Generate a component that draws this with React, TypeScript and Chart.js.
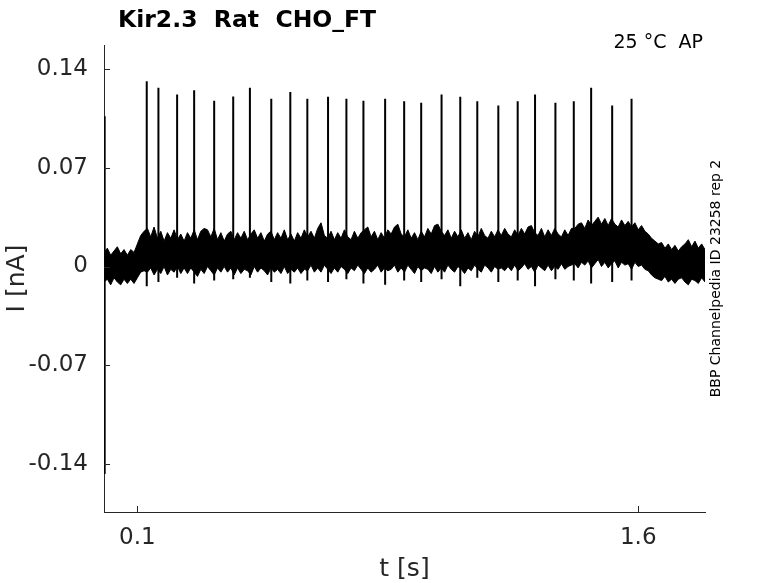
import { useEffect, useRef } from 'react';
import { Chart, registerables } from 'chart.js';

Chart.register(...registerables);

const FONT = "'DejaVu Sans', sans-serif";
const AXIS_COLOR = '#262626';

const X_MIN = 0;
const X_MAX = 1.8;
const Y_MIN = -0.174;
const Y_MAX = 0.157;

const xTickValues = [0.1, 1.6];
const xTickLabels = ['0.1', '1.6'];
const yTickValues = [-0.14, -0.07, 0, 0.07, 0.14];
const yTickLabels = ['-0.14', '-0.07', '0', '0.07', '0.14'];

const titleText = 'Kir2.3  Rat  CHO_FT';
const conditionText = '25 °C  AP';
const sourceText = 'BBP Channelpedia ID 23258 rep 2';
const xAxisLabel = 't [s]';
const yAxisLabel = 'I [nA]';

// noise band envelope, sampled every BAND_STEP seconds from BAND_START
const BAND_START = 0;
const BAND_STEP = 0.01;
const bandUpper = [
  0.010, 0.013, 0.008, 0.011, 0.014, 0.009, 0.012, 0.008, 0.012, 0.010,
  0.016, 0.022, 0.025,
  0.027, 0.021, 0.028, 0.020, 0.025, 0.018, 0.024, 0.020, 0.026, 0.019, 0.023, 0.018,
  0.024, 0.020, 0.026, 0.019, 0.025, 0.027, 0.026, 0.021, 0.027, 0.019, 0.024, 0.018,
  0.023, 0.025, 0.019, 0.024, 0.020, 0.025, 0.019, 0.023, 0.026, 0.020, 0.024, 0.018,
  0.023, 0.025, 0.019, 0.024, 0.020, 0.026, 0.019, 0.023, 0.018, 0.024, 0.020, 0.026,
  0.021, 0.025, 0.020, 0.027, 0.031, 0.022, 0.020, 0.025, 0.019, 0.024, 0.020, 0.026,
  0.021, 0.019, 0.025, 0.020, 0.024, 0.026, 0.028, 0.021, 0.025, 0.019, 0.024, 0.020,
  0.026, 0.023, 0.028, 0.030, 0.023, 0.021, 0.026, 0.020, 0.024, 0.019, 0.025, 0.021,
  0.027, 0.023, 0.029, 0.030, 0.025, 0.022, 0.026, 0.020, 0.025, 0.021, 0.026, 0.020,
  0.024, 0.019, 0.025, 0.021, 0.027, 0.022, 0.020, 0.025, 0.021, 0.026, 0.022, 0.027,
  0.023, 0.021, 0.026, 0.022, 0.027, 0.023, 0.028, 0.029, 0.024, 0.022,
  0.027, 0.021, 0.026, 0.022, 0.027, 0.023, 0.021, 0.026, 0.022, 0.027,
  0.027, 0.030, 0.031, 0.027, 0.033, 0.029, 0.032, 0.035, 0.030, 0.034, 0.029,
  0.034, 0.030, 0.028, 0.033, 0.029, 0.032, 0.028, 0.031, 0.026, 0.029, 0.025,
  0.023, 0.020, 0.018, 0.016,
  0.017, 0.013, 0.016, 0.012, 0.015, 0.011, 0.014, 0.016, 0.019, 0.014, 0.018, 0.013, 0.016, 0.012,
];
const bandLower = [
  -0.011, -0.009, -0.013, -0.008, -0.011, -0.013, -0.009, -0.012, -0.009, -0.012,
  -0.008, -0.004, -0.003,
  -0.004, -0.001, -0.006, -0.002, -0.005, 0.000, -0.006, -0.002, -0.004, 0.000, -0.005, -0.001,
  -0.005, -0.001, -0.004, -0.007, -0.002, -0.005, 0.000, -0.003, -0.006, -0.001, -0.004, 0.000,
  -0.004, -0.001, -0.006, -0.001, -0.005, -0.002, -0.003, -0.006, 0.000, -0.004, -0.001, -0.003,
  -0.006, -0.001, -0.004, -0.002, -0.005, 0.000, -0.005, -0.002, -0.004, -0.001, -0.005, -0.002,
  -0.003, 0.001, -0.004, -0.001, -0.004, 0.001, -0.002, -0.005, -0.001, -0.004, 0.000, -0.002,
  -0.005, -0.001, -0.003, 0.001, -0.002, -0.005, -0.001, -0.004, -0.002, 0.001, -0.004, -0.001,
  -0.003, -0.002, 0.001, -0.004, -0.001, -0.004, 0.001, -0.002, -0.005, 0.000, -0.003, -0.001,
  -0.002, -0.005, 0.000, -0.004, -0.001, -0.004, 0.001, -0.002, -0.004, 0.000, -0.002, -0.005,
  -0.001, -0.003, 0.001, -0.002, -0.004, 0.001, -0.001, -0.004, 0.000, -0.002, -0.001, -0.003,
  0.000, -0.003, 0.001, -0.003, -0.001, 0.002, -0.002, 0.000, -0.004, 0.001,
  -0.001, -0.003, 0.001, -0.003, 0.000, -0.002, 0.002, -0.002, 0.000, 0.001,
  0.002, -0.001, 0.003, 0.001, 0.004, -0.001, 0.002, 0.005, 0.000, 0.003, -0.001,
  0.002, 0.004, -0.001, 0.003, 0.001, 0.002, -0.002, 0.003, 0.000, 0.001, -0.002,
  -0.003, -0.006, -0.008, -0.009,
  -0.010, -0.007, -0.011, -0.009, -0.012, -0.009, -0.008, -0.011, -0.013, -0.009, -0.010, -0.012, -0.008, -0.011,
];

// action-potential spikes
const spikeTimes = [
  0.128, 0.163, 0.219, 0.270, 0.330, 0.387, 0.437, 0.501, 0.558, 0.609, 0.671, 0.726, 0.777,
  0.842, 0.899, 0.950, 1.011, 1.067, 1.118, 1.181, 1.239, 1.291, 1.352, 1.407, 1.459, 1.522, 1.580,
];
const spikePeaks = [
  0.1313, 0.1267, 0.1219, 0.1250, 0.1174, 0.1205, 0.1267, 0.1189, 0.1236, 0.1189, 0.1203, 0.1189, 0.1174,
  0.1189, 0.1172, 0.1160, 0.1219, 0.1203, 0.1172, 0.1141, 0.1172, 0.1219, 0.1160, 0.1172, 0.1267, 0.1141, 0.1189,
];
const spikeTroughs = [
  -0.014, -0.011, -0.008, -0.012, -0.010, -0.009, -0.008, -0.011, -0.012, -0.010, -0.011, -0.009, -0.012,
  -0.013, -0.010, -0.011, -0.009, -0.014, -0.008, -0.011, -0.010, -0.014, -0.009, -0.010, -0.012, -0.011, -0.010,
];

// capacitive transient at the start of the recording
const transientTimes = [0.002, 0.002];
const transientValues = [0.1065, -0.147];

function labelFor(values: number[], labels: string[], v: number) {
  const i = values.findIndex((t) => Math.abs(t - v) < 1e-9);
  return i >= 0 ? labels[i] : '';
}

const decorPlugin = {
  id: 'decor',
  afterDraw(chart: any) {
    const { ctx, chartArea, scales } = chart;
    const { left, right, top, bottom } = chartArea;
    ctx.save();
    // inward tick marks
    ctx.strokeStyle = AXIS_COLOR;
    ctx.lineWidth = 1;
    ctx.beginPath();
    yTickValues.forEach((v) => {
      const y = Math.round(scales.y.getPixelForValue(v)) + 0.5;
      ctx.moveTo(left, y);
      ctx.lineTo(left + 6, y);
    });
    xTickValues.forEach((v) => {
      const x = Math.round(scales.x.getPixelForValue(v)) + 0.5;
      ctx.moveTo(x, bottom);
      ctx.lineTo(x, bottom - 6);
    });
    ctx.stroke();

    // title
    ctx.fillStyle = '#000';
    ctx.font = `bold 23.5px ${FONT}`;
    ctx.textAlign = 'left';
    ctx.textBaseline = 'alphabetic';
    ctx.fillText(titleText, 118, 27);

    // condition text
    ctx.fillStyle = '#000';
    ctx.font = `19px ${FONT}`;
    ctx.textAlign = 'right';
    ctx.fillText(conditionText, right - 2, 48);

    // axis labels
    ctx.fillStyle = AXIS_COLOR;
    ctx.font = `25px ${FONT}`;
    ctx.textAlign = 'center';
    ctx.fillText(xAxisLabel, (left + right) / 2, 576);

    ctx.save();
    ctx.translate(17, (top + bottom) / 2);
    ctx.rotate(-Math.PI / 2);
    ctx.textBaseline = 'middle';
    ctx.fillText(yAxisLabel, 0, 0);
    ctx.restore();

    // source text
    ctx.save();
    ctx.fillStyle = '#000';
    ctx.font = `14px ${FONT}`;
    ctx.translate(716, (top + bottom) / 2);
    ctx.rotate(-Math.PI / 2);
    ctx.textAlign = 'center';
    ctx.textBaseline = 'middle';
    ctx.fillText(sourceText, 0, 0);
    ctx.restore();

    ctx.restore();
  },
};

export default function App() {
  const canvasRef = useRef<HTMLCanvasElement | null>(null);

  useEffect(() => {
    const canvas = canvasRef.current;
    if (!canvas) return;

    const upperPts = bandUpper.map((v, i) => ({ x: BAND_START + i * BAND_STEP, y: v }));
    const lowerPts = bandLower.map((v, i) => ({ x: BAND_START + i * BAND_STEP, y: v }));
    const spikePts: { x: number; y: number | null }[] = [];
    spikeTimes.forEach((t, i) => {
      spikePts.push({ x: t, y: spikeTroughs[i] });
      spikePts.push({ x: t, y: spikePeaks[i] });
      spikePts.push({ x: t, y: null });
    });
    const transientPts = transientTimes.map((t, i) => ({ x: t, y: transientValues[i] }));

    const tickFont = { family: FONT, size: 23 };

    const chart = new Chart(canvas, {
      type: 'line',
      data: {
        datasets: [
          {
            data: upperPts,
            borderColor: '#000',
            backgroundColor: '#000',
            borderWidth: 1,
            pointRadius: 0,
            tension: 0,
            fill: '+1',
          },
          {
            data: lowerPts,
            borderColor: '#000',
            backgroundColor: '#000',
            borderWidth: 1,
            pointRadius: 0,
            tension: 0,
            fill: false,
          },
          {
            data: spikePts,
            borderColor: '#000',
            borderWidth: 2,
            pointRadius: 0,
            tension: 0,
            fill: false,
            spanGaps: false,
          },
          {
            data: transientPts,
            borderColor: '#000',
            borderWidth: 2,
            pointRadius: 0,
            fill: false,
          },
        ],
      } as any,
      options: {
        responsive: false,
        animation: false,
        devicePixelRatio: 1,
        events: [],
        layout: { padding: { left: 0, top: 45, right: 73, bottom: 0 } },
        plugins: {
          legend: { display: false },
          title: { display: false },
          tooltip: { enabled: false },
        },
        scales: {
          x: {
            type: 'linear',
            min: X_MIN,
            max: X_MAX,
            grid: { display: false, drawTicks: false },
            border: { display: true, color: AXIS_COLOR, width: 1 },
            ticks: {
              font: tickFont,
              color: AXIS_COLOR,
              padding: 12,
              maxRotation: 0,
              autoSkip: false,
              callback: (v: any) => labelFor(xTickValues, xTickLabels, Number(v)),
            },
            afterBuildTicks: (s: any) => {
              s.ticks = xTickValues.map((v) => ({ value: v }));
            },
            afterFit: (s: any) => {
              s.height = 71;
            },
          },
          y: {
            type: 'linear',
            min: Y_MIN,
            max: Y_MAX,
            grid: { display: false, drawTicks: false },
            border: { display: true, color: AXIS_COLOR, width: 1 },
            ticks: {
              font: tickFont,
              color: AXIS_COLOR,
              padding: 16,
              autoSkip: false,
              callback: (v: any) => labelFor(yTickValues, yTickLabels, Number(v)),
            },
            afterBuildTicks: (s: any) => {
              s.ticks = yTickValues.map((v) => ({ value: v }));
            },
            afterFit: (s: any) => {
              s.width = 104;
            },
          },
        },
      } as any,
      plugins: [decorPlugin],
    });

    return () => chart.destroy();
  }, []);

  return (
    <div style={{ position: 'fixed', left: 0, top: 0, width: 778, height: 583, background: '#fff' }}>
      <canvas ref={canvasRef} width={778} height={583} style={{ display: 'block', width: 778, height: 583 }} />
    </div>
  );
}
